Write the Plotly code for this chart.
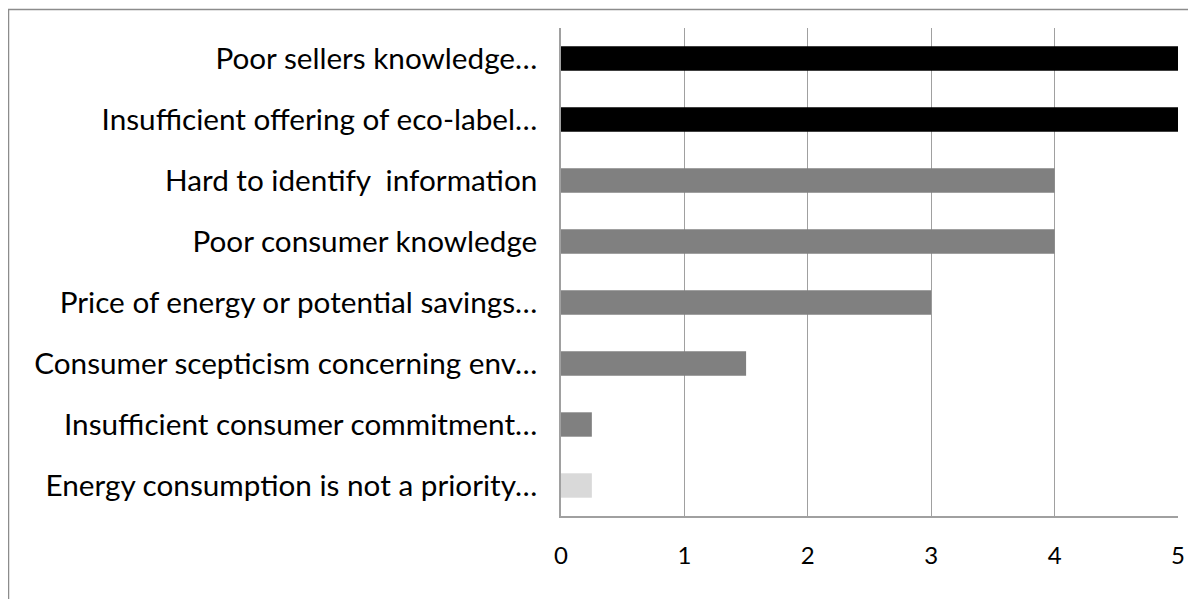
import plotly.graph_objects as go

categories = [
    "Poor sellers knowledge…",
    "Insufficient offering of eco-label…",
    "Hard to identify  information",
    "Poor consumer knowledge",
    "Price of energy or potential savings…",
    "Consumer scepticism concerning env…",
    "Insufficient consumer commitment…",
    "Energy consumption is not a priority…",
]
values = [5, 5, 4, 4, 3, 1.5, 0.25, 0.25]
colors = ["#000000", "#000000", "#808080", "#808080", "#808080", "#808080", "#808080", "#d9d9d9"]
x_ticks = [0, 1, 2, 3, 4, 5]

# page body has an 8px offset
OFF = 8
W, H = 1196, 599
L, R, T, B = 561 - OFF, W - 1170, 28 - OFF, H - 516 + OFF

fig = go.Figure(go.Bar(
    y=categories, x=values, orientation="h",
    marker=dict(color=colors, line=dict(width=0)),
))

pw = W - L - R
ph = H - T - B
def px(x):
    return (x - OFF - L) / pw
def py(y):
    return (H - B - (y - OFF)) / ph

fig.update_layout(
    width=W, height=H,
    margin=dict(l=L, r=R, t=T, b=B),
    plot_bgcolor="white", paper_bgcolor="white",
    bargap=0.6,
    showlegend=False,
    font=dict(family="Lato", size=29.7, color="black"),
    xaxis=dict(range=[0, 5], tickvals=x_ticks, showgrid=True, gridcolor="#a0a0a0",
               gridwidth=1, zeroline=False, showline=True, linecolor="#a0a0a0",
               linewidth=1.5, ticks="", ticklabelstandoff=17, tickfont=dict(size=24)),
    yaxis=dict(categoryorder="array", categoryarray=categories[::-1], autorange=False,
               range=[-0.5, 7.5], showgrid=False, zeroline=False, showline=True,
               linecolor="#a0a0a0", linewidth=1.5, ticks="", ticklabelstandoff=16),
    shapes=[dict(type="rect", xref="paper", yref="paper",
                 x0=px(8.5), x1=px(1230), y0=py(640), y1=py(9.5),
                 line=dict(color="#8c8c8c", width=1.5), fillcolor="rgba(0,0,0,0)", layer="below")],
)

fig.write_html("out.html")
